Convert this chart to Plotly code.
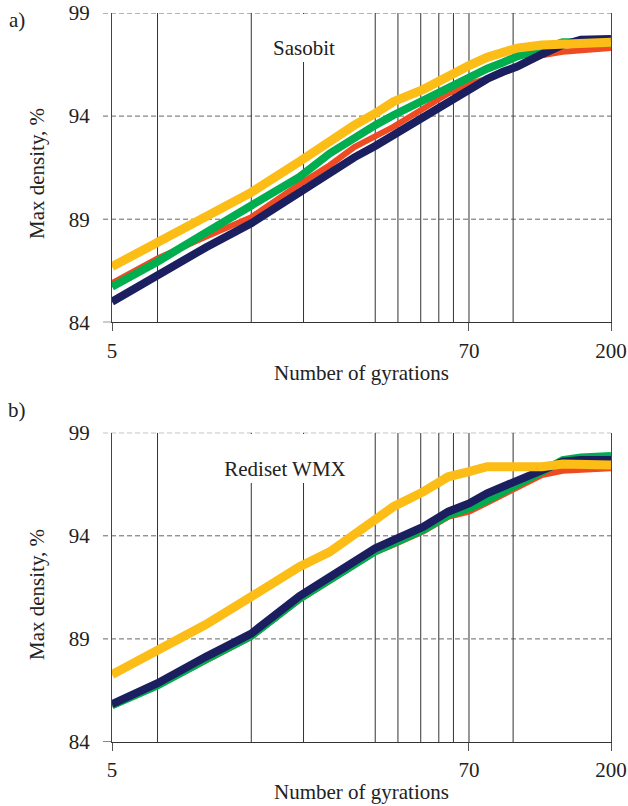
import math
import plotly.graph_objects as go

# ---------------- data ----------------
gyrations = [5, 7, 10, 14, 20, 25, 30, 35, 40, 50, 60, 70, 80, 90, 100, 120, 140, 160, 200]

# a) Sasobit
sas_red    = [85.9, 87.1, 88.15, 89.1, 90.7, 91.62, 92.5, 92.99, 93.48, 94.37, 95.1, 95.55, 95.8, 96.1, 96.4, 96.95, 97.12, 97.2, 97.3]
sas_green  = [85.72, 86.94, 88.35, 89.65, 91.05, 92.19, 92.99, 93.56, 94.04, 94.77, 95.45, 95.85, 96.3, 96.6, 96.9, 97.25, 97.58, 97.58, 97.55]
sas_navy   = [85.0, 86.29, 87.63, 88.8, 90.35, 91.22, 92.0, 92.55, 93.07, 94.0, 94.75, 95.25, 95.8, 96.15, 96.4, 97.0, 97.45, 97.7, 97.74]
sas_yellow = [86.7, 87.85, 89.05, 90.3, 91.8, 92.83, 93.56, 94.13, 94.7, 95.3, 95.95, 96.45, 96.85, 97.1, 97.3, 97.45, 97.5, 97.53, 97.58]

# b) Rediset WMX
red_red    = [85.76, 86.72, 87.95, 89.1, 90.9, 91.8, 92.58, 93.2, 93.57, 94.22, 94.92, 95.17, 95.6, 95.98, 96.33, 96.95, 97.15, 97.22, 97.27]
red_green  = [85.78, 86.75, 88.0, 89.15, 90.95, 91.85, 92.65, 93.25, 93.63, 94.3, 95.0, 95.33, 95.73, 96.1, 96.46, 97.11, 97.67, 97.8, 97.87]
red_navy   = [85.84, 86.85, 88.13, 89.26, 91.08, 92.01, 92.82, 93.39, 93.79, 94.44, 95.17, 95.57, 96.06, 96.4, 96.7, 97.22, 97.6, 97.67, 97.67]
red_yellow = [87.27, 88.4, 89.7, 91.05, 92.5, 93.22, 94.03, 94.76, 95.41, 96.14, 96.86, 97.11, 97.35, 97.35, 97.35, 97.35, 97.48, 97.48, 97.43]

ref_lines_x = [7, 14, 20.6, 35, 41.4, 49, 56, 62.4, 70, 97]
x_ticks = [5, 70, 200]
y_ticks = [84, 89, 94, 99]
panel_labels = ["a)", "b)"]
panel_names = ["Sasobit", "Rediset WMX"]

colors = {"red": "#EF4B23", "green": "#00AE4F", "navy": "#1B1F60", "yellow": "#FDBD17"}
widths = {"red": 6, "green": 8, "navy": 8, "yellow": 9}

FONT = "Liberation Serif"

fig = go.Figure()

panels = [
    ("x", "y", {"red": sas_red, "green": sas_green, "navy": sas_navy, "yellow": sas_yellow}),
    ("x2", "y2", {"red": red_red, "green": red_green, "navy": red_navy, "yellow": red_yellow}),
]

for xa, ya, series in panels:
    vx, vy = [], []
    for xv in ref_lines_x:
        vx += [xv, xv, None]
        vy += [y_ticks[0], y_ticks[-1], None]
    fig.add_trace(go.Scatter(x=vx, y=vy, mode="lines", xaxis=xa, yaxis=ya,
                             line=dict(color="#333333", width=1), showlegend=False, hoverinfo="skip"))
    for name in ["red", "green", "navy", "yellow"]:
        fig.add_trace(go.Scatter(x=gyrations, y=series[name], mode="lines", xaxis=xa, yaxis=ya,
                                 line=dict(color=colors[name], width=widths[name]),
                                 showlegend=False))

# layout geometry
ml, mr, mt, mb = 112, 17, 13, 64
H = 806
ph = H - mt - mb
def py(pix):
    return (H - mb - pix) / ph
def px(pix):
    return (pix - ml) / (628 - ml - mr)

dom1 = [py(322.3), 1.0]
dom2 = [0.0, py(432.7)]

axis_common_x = dict(type="log", range=[math.log10(5), math.log10(200)], showgrid=False, zeroline=False,
                     showline=True, linecolor="#333", linewidth=1.2, ticks="outside", ticklen=8,
                     tickcolor="#555", tickvals=x_ticks, ticktext=[str(t) for t in x_ticks],
                     ticklabelstandoff=1, automargin=False,
                     tickfont=dict(family=FONT, size=21, color="#222"))
axis_common_y = dict(range=[84, 99], showgrid=False, zeroline=False, showline=True, mirror=True,
                     linecolor="#444", linewidth=1, ticks="outside", ticklen=9, tickcolor="rgba(0,0,0,0)",
                     tickvals=y_ticks, ticktext=[str(t) for t in y_ticks], ticklabelstandoff=8,
                     automargin=False, tickfont=dict(family=FONT, size=21, color="#222"))

fig.update_layout(
    width=628, height=806, margin=dict(l=ml, r=mr, t=mt, b=mb, autoexpand=False),
    paper_bgcolor="white", plot_bgcolor="white",
    font=dict(family=FONT, size=21, color="#222"),
    xaxis=dict(axis_common_x, domain=[0, 1], anchor="y"),
    yaxis=dict(axis_common_y, domain=dom1, anchor="x"),
    xaxis2=dict(axis_common_x, domain=[0, 1], anchor="y2"),
    yaxis2=dict(axis_common_y, domain=dom2, anchor="x2"),
)

shapes = []
for xr, yr in [("x domain", "y"), ("x2 domain", "y2")]:
    for yv in y_ticks[1:]:
        shapes.append(dict(type="line", xref=xr, yref=yr, x0=-0.018, x1=1, y0=yv, y1=yv,
                           line=dict(color="#666", width=1, dash="5px,3px"), layer="below"))
    shapes.append(dict(type="line", xref=xr, yref=yr, x0=-0.018, x1=0, y0=y_ticks[0], y1=y_ticks[0],
                       line=dict(color="#333", width=1.2), layer="below"))
fig.update_layout(shapes=shapes)

ann = []
# panel labels
ann.append(dict(text=panel_labels[0], x=px(17), y=py(20), xref="paper", yref="paper", showarrow=False,
                xanchor="center", yanchor="middle", font=dict(size=21)))
ann.append(dict(text=panel_labels[1], x=px(17), y=py(410), xref="paper", yref="paper", showarrow=False,
                xanchor="center", yanchor="middle", font=dict(size=21)))
# axis titles
for ycen, xtit in [(174, 373), (595, 792)]:
    ann.append(dict(text="Max density, %", x=px(37), y=py(ycen), xref="paper", yref="paper", showarrow=False,
                    textangle=-90, xanchor="center", yanchor="middle", font=dict(size=21)))
    ann.append(dict(text="Number of gyrations", x=0.5, y=py(xtit), xref="paper", yref="paper", showarrow=False,
                    xanchor="center", yanchor="middle", font=dict(size=21)))
# panel names with white boxes
ann.append(dict(text=panel_names[0], x=px(304), y=py(14), xref="paper", yref="paper", showarrow=False,
                xanchor="center", yanchor="top", bgcolor="white", width=90, height=44, borderpad=2,
                borderwidth=0, valign="bottom", font=dict(size=21)))
ann.append(dict(text=panel_names[1], x=px(285), y=py(434), xref="paper", yref="paper", showarrow=False,
                xanchor="center", yanchor="top", bgcolor="white", width=130, height=45, borderpad=2,
                borderwidth=0, valign="bottom", font=dict(size=21)))
fig.update_layout(annotations=ann)

fig.write_html("out.html")
